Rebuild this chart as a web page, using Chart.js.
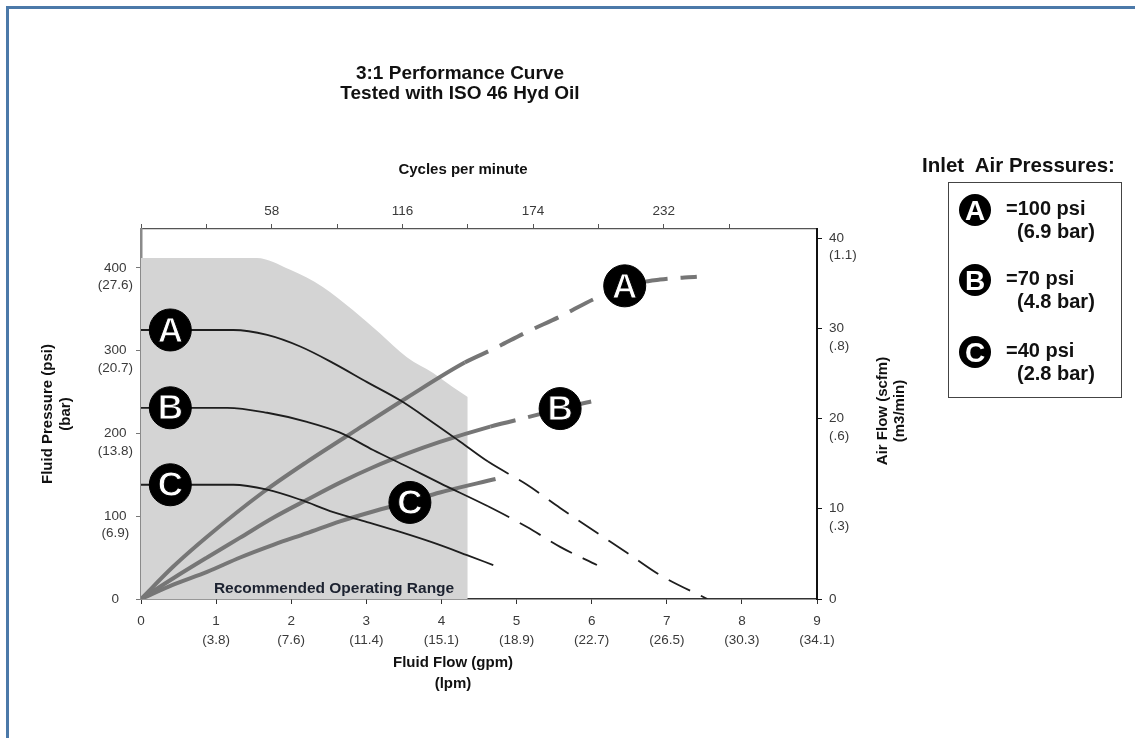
<!DOCTYPE html>
<html>
<head>
<meta charset="utf-8">
<title>3:1 Performance Curve</title>
<script src="https://cdn.jsdelivr.net/npm/chart.js@4.4.1/dist/chart.umd.min.js"></script>
<style>
  body { margin: 0; background: #fff; font-family: "Liberation Sans", Arial, sans-serif; }
  #wrap { position: relative; width: 1135px; height: 738px; overflow: hidden; }
  #frame { position: absolute; left: 6px; top: 6px; right: -10px; bottom: -10px;
    border-top: 3px solid #4b79a9; border-left: 3px solid #4b79a9; }
  canvas { position: absolute; left: 0; top: 0; }
  .txt { position: absolute; font-weight: bold; color: #111; white-space: pre; }
  #title { left: 0; width: 920px; top: 63px; text-align: center; font-size: 19px; line-height: 20px; }
  #legendHead { left: 922px; top: 153px; font-size: 20.5px; line-height: 24px; }
  #legendBox { position: absolute; left: 948px; top: 182px; width: 172px; height: 214px; border: 1.5px solid #444; }
  .dot { position: absolute; width: 32px; height: 32px; border-radius: 50%; background: #000;
    color: #fff; font-weight: bold; font-size: 28px; line-height: 33px; text-align: center; }
  .lg { font-size: 20px; line-height: 22px; }
</style>
</head>
<body>
<div id="wrap">
  <div id="frame"></div>
  <canvas id="chart" width="1135" height="738"></canvas>
  <div id="title" class="txt">3:1 Performance Curve
Tested with ISO 46 Hyd Oil</div>
  <div id="legendHead" class="txt">Inlet  Air Pressures:</div>
  <div id="legendBox"></div>
  <div id="legendItems"></div>
</div>
<script>
// axis ticks
const gpmTicks = [0, 1, 2, 3, 4, 5, 6, 7, 8, 9];
const lpmLabels = ["", "(3.8)", "(7.6)", "(11.4)", "(15.1)", "(18.9)", "(22.7)", "(26.5)", "(30.3)", "(34.1)"];
const psiTicks = [0, 100, 200, 300, 400];
const barLabels = ["", "(6.9)", "(13.8)", "(20.7)", "(27.6)"];
const scfmTicks = [0, 10, 20, 30, 40];
const m3Labels = ["", "(.3)", "(.6)", "(.8)", "(1.1)"];
const cpmTicks = [0, 29, 58, 87, 116, 145, 174, 203, 232, 261];
const cpmLabelled = [58, 116, 174, 232];

// recommended operating range (gpm, psi)
const rangeX = [0, 1.54, 1.98, 2.42, 2.82, 3.18, 3.54, 3.89, 4.15, 4.35];
const rangeY = [412, 412, 398, 377, 349, 321, 292, 273, 256, 244];

// fluid pressure curves (gpm, psi)
const fluidAX = [0, 1.23, 1.68, 2.12, 2.56, 3.01, 3.45, 3.89, 4.25, 4.62, 5.14, 5.58, 6.02, 6.47, 6.91, 7.54];
const fluidAY = [325, 325, 319, 305, 285, 262, 240, 213, 190, 166, 138, 110, 83, 56, 29, 0];
const fluidBX = [0, 1.15, 1.68, 2.21, 2.65, 3.09, 3.54, 3.98, 4.62, 5.14, 5.58, 6.07];
const fluidBY = [231, 231, 225, 214, 201, 180, 160, 140, 112, 87, 63, 41];
const fluidCX = [0, 1.23, 1.68, 2.12, 2.56, 3.01, 3.45, 3.89, 4.34, 4.69];
const fluidCY = [138, 138, 132, 120, 105, 93, 81, 68, 53, 41];

// air flow curves (gpm, scfm)
const airAX = [0, 0.43, 0.88, 1.62, 2.21, 2.88, 3.54, 4.31, 4.69, 5.14, 5.58, 6.02, 6.44, 6.91, 7.40];
const airAY = [0, 3.6, 6.9, 11.8, 15.2, 18.8, 22.3, 26.2, 27.7, 29.6, 31.3, 33.2, 34.7, 35.4, 35.7];
const airBX = [0, 0.43, 0.88, 1.32, 1.76, 2.21, 2.65, 3.09, 3.54, 3.98, 4.65, 5.27, 5.58, 6.11];
const airBY = [0, 2.3, 4.6, 6.8, 9.0, 11.0, 12.9, 14.6, 16.1, 17.4, 19.1, 20.4, 21.1, 22.1];
const airCX = [0, 0.43, 0.88, 1.32, 1.76, 2.21, 2.65, 3.09, 3.58, 3.98, 4.72];
const airCY = [0, 1.6, 3.0, 4.6, 6.0, 7.3, 8.6, 9.7, 10.8, 11.8, 13.3];

// where each curve turns dashed (gpm)
const dashFromFluid = [4.62, 4.62, 99];
const dashFromAir = [4.31, 4.65, 99];

// circle markers
const letters = ["A", "B", "C"];
const fluidMarkX = [0.39, 0.39, 0.39];
const fluidMarkY = [325, 231, 138];
const airMarkX = [6.44, 5.58, 3.58];
const airMarkY = [34.7, 21.1, 10.7];

// legend entries
const legendPsi = ["=100 psi", "=70 psi", "=40 psi"];
const legendBar = ["(6.9 bar)", "(4.8 bar)", "(2.8 bar)"];

const FONT = "'Liberation Sans', Arial, sans-serif";
Chart.defaults.font.family = FONT;
Chart.defaults.color = "#3a3a3a";

const pts = (xs, ys) => xs.map((x, i) => ({ x: x, y: ys[i] }));

function curve(xs, ys, axis, color, width, dashFrom, dash) {
	return {
		data: pts(xs, ys),
		yAxisID: axis,
		borderColor: color,
		borderWidth: width,
		pointRadius: 0,
		fill: false,
		cubicInterpolationMode: "monotone",
		segment: {
			borderDash: (c) => (c.p0.parsed.x >= dashFrom - 1e-6 ? dash : undefined)
		}
	};
}

function markers(xs, ys, axis) {
	return {
		data: pts(xs, ys),
		yAxisID: axis,
		showLine: false,
		letters: letters,
		pointRadius: 21,
		pointHoverRadius: 21,
		pointBackgroundColor: "#000",
		pointBorderColor: "#000",
		pointBorderWidth: 1,
		clip: false
	};
}

const fluidColor = "#1e1e1e";
const airColor = "#767676";
const fluidDash = [24, 12];
const airDash = [26, 13];

const datasets = [
	markers(fluidMarkX, fluidMarkY, "y"),
	markers(airMarkX, airMarkY, "y2"),
	curve(fluidAX, fluidAY, "y", fluidColor, 1.8, dashFromFluid[0], fluidDash),
	curve(fluidBX, fluidBY, "y", fluidColor, 1.8, dashFromFluid[1], fluidDash),
	curve(fluidCX, fluidCY, "y", fluidColor, 1.8, dashFromFluid[2], fluidDash),
	curve(airAX, airAY, "y2", airColor, 4, dashFromAir[0], airDash),
	curve(airBX, airBY, "y2", airColor, 4, dashFromAir[1], airDash),
	curve(airCX, airCY, "y2", airColor, 4, dashFromAir[2], airDash),
	{
		data: pts(rangeX, rangeY),
		yAxisID: "y",
		borderWidth: 0,
		pointRadius: 0,
		backgroundColor: "#d4d4d4",
		fill: "origin",
		cubicInterpolationMode: "monotone"
	}
];

// letters on circles and free text around the plot
const textPlugin = {
	id: "chartText",
	afterDatasetsDraw(chart) {
		const ctx = chart.ctx;
		ctx.save();
		ctx.textAlign = "center";
		ctx.textBaseline = "middle";
		chart.data.datasets.forEach((ds, i) => {
			if (!ds.letters) return;
			chart.getDatasetMeta(i).data.forEach((p, j) => {
				ctx.font = "bold 35px " + FONT;
				ctx.lineWidth = 1;
				ctx.strokeStyle = "#000";
				ctx.fillStyle = "#fff";
				ctx.fillText(ds.letters[j], p.x, p.y + 2);
				ctx.strokeText(ds.letters[j], p.x, p.y + 2);
			});
		});
		const x = chart.scales.x;
		const y = chart.scales.y;
		ctx.fillStyle = "#1c2230";
		ctx.font = "bold 15.5px " + FONT;
		ctx.fillText("Recommended Operating Range", x.getPixelForValue(2.57), y.getPixelForValue(12));
		ctx.restore();
	},
	afterDraw(chart) {
		const ctx = chart.ctx;
		const a = chart.chartArea;
		ctx.save();
		ctx.fillStyle = "#111";
		ctx.textAlign = "center";
		ctx.textBaseline = "middle";
		ctx.font = "bold 15px " + FONT;
		ctx.fillText("Cycles per minute", 463, a.top - 59);
		ctx.fillText("Fluid Flow (gpm)", 453, a.bottom + 64);
		ctx.fillText("(lpm)", 453, a.bottom + 85);
		ctx.translate(a.right + 66, (a.top + a.bottom) / 2 - 3);
		ctx.rotate(-Math.PI / 2);
		ctx.fillText("Air Flow (scfm)", 0, 0);
		ctx.fillText("(m3/min)", 0, 17);
		ctx.restore();
	}
};

const tickFont = { size: 13.5, lineHeight: 1.3 };
const axisGrid = (color) => ({ drawOnChartArea: false, color: color, tickLength: 5 });

new Chart(document.getElementById("chart"), {
	type: "line",
	data: { datasets: datasets },
	plugins: [textPlugin],
	options: {
		responsive: false,
		animation: false,
		events: [],
		layout: { padding: 0 },
		plugins: { legend: { display: false }, tooltip: { enabled: false } },
		scales: {
			x: {
				type: "linear",
				position: "bottom",
				min: 0,
				max: 9,
				afterBuildTicks: (s) => { s.ticks = gpmTicks.map((v) => ({ value: v })); },
				afterFit: (s) => { s.height = 139; },
				ticks: {
					font: { size: 13.5, lineHeight: 1.45 },
					padding: 7,
					maxRotation: 0,
					autoSkip: false,
					callback: (v) => {
						const l = lpmLabels[gpmTicks.indexOf(v)];
						return l ? [String(v), l] : String(v);
					}
				},
				grid: axisGrid("#333"),
				border: { color: "#333", width: 1.5 }
			},
			x2: {
				type: "linear",
				position: "top",
				min: 0,
				max: 300,
				afterBuildTicks: (s) => { s.ticks = cpmTicks.map((v) => ({ value: v })); },
				afterFit: (s) => { s.height = 229; },
				ticks: {
					font: tickFont,
					padding: 4,
					maxRotation: 0,
					autoSkip: false,
					callback: (v) => (cpmLabelled.includes(v) ? String(v) : "")
				},
				grid: axisGrid("#555"),
				border: { color: "#555", width: 1.2 }
			},
			y: {
				type: "linear",
				position: "left",
				min: 0,
				max: 447,
				afterBuildTicks: (s) => { s.ticks = psiTicks.map((v) => ({ value: v })); },
				afterFit: (s) => { s.width = 141; },
				ticks: {
					font: tickFont,
					padding: 3,
					crossAlign: "center",
					autoSkip: false,
					callback: (v) => {
						const l = barLabels[psiTicks.indexOf(v)];
						return l ? ["", String(v), l] : String(v);
					}
				},
				title: {
					display: true,
					text: ["Fluid Pressure (psi)", "(bar)"],
					color: "#111",
					font: { size: 15, weight: "bold", lineHeight: 1.2 },
					padding: { top: 39, bottom: 0 }
				},
				grid: axisGrid("#777"),
				border: { color: "#8a8a8a", width: 2.5 }
			},
			y2: {
				type: "linear",
				position: "right",
				min: 0,
				max: 41,
				afterBuildTicks: (s) => { s.ticks = scfmTicks.map((v) => ({ value: v })); },
				afterFit: (s) => { s.width = 318; },
				ticks: {
					font: tickFont,
					padding: 7,
					autoSkip: false,
					callback: (v) => {
						const l = m3Labels[scfmTicks.indexOf(v)];
						return l ? ["", String(v), l] : String(v);
					}
				},
				grid: axisGrid("#111"),
				border: { color: "#111", width: 2 }
			}
		}
	}
});

// legend items inside the box
const items = document.getElementById("legendItems");
const rowY = [210, 280, 352];
letters.forEach((l, i) => {
	const dot = document.createElement("div");
	dot.className = "dot";
	dot.textContent = l;
	dot.style.left = 975 - 16 + "px";
	dot.style.top = rowY[i] - 16 + "px";
	items.appendChild(dot);
	const psi = document.createElement("div");
	psi.className = "txt lg";
	psi.textContent = legendPsi[i];
	psi.style.left = "1006px";
	psi.style.top = rowY[i] - 13 + "px";
	items.appendChild(psi);
	const bar = document.createElement("div");
	bar.className = "txt lg";
	bar.textContent = legendBar[i];
	bar.style.left = "1017px";
	bar.style.top = rowY[i] + 10 + "px";
	items.appendChild(bar);
});
</script>
</body>
</html>
